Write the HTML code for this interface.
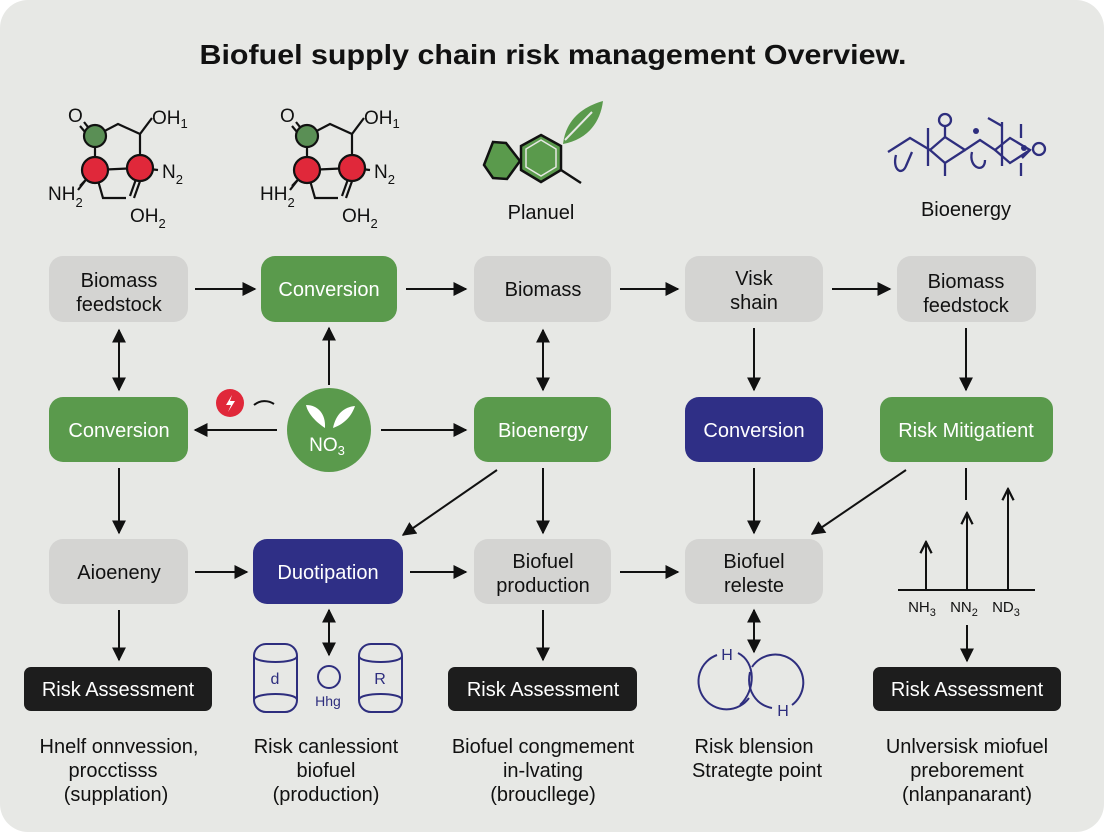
<!DOCTYPE html>
<html><head><meta charset="utf-8"><style>
html,body{margin:0;padding:0;background:#fff;}
svg{display:block;}
text{font-family:"Liberation Sans",sans-serif;}
</style></head><body>
<svg width="1104" height="832" viewBox="0 0 1104 832" xmlns="http://www.w3.org/2000/svg">
<defs>
<marker id="a" viewBox="0 0 10 10" refX="9" refY="5" markerWidth="7" markerHeight="7" orient="auto-start-reverse"><path d="M0,0 L10,5 L0,10 z" fill="#111"/></marker>
<marker id="o" viewBox="0 0 10 10" refX="9" refY="5" markerWidth="7" markerHeight="7" orient="auto"><path d="M1,1 L9,5 L1,9" fill="none" stroke="#111" stroke-width="1.6"/></marker>
</defs>
<rect x="0" y="0" width="1104" height="832" rx="28" fill="#e7e8e5"/>
<text x="553" y="64" font-size="28" font-weight="bold" text-anchor="middle" textLength="707" lengthAdjust="spacingAndGlyphs" fill="#111">Biofuel supply chain risk management Overview.</text>

<!-- molecule 1 -->
<g stroke="#111" stroke-width="2.2" fill="none">
<path d="M84,122 L95,136 M80,126 L90,138"/>
<path d="M95,136 L118,124 L140,134 L152,118 M140,134 L140,168 M95,136 L95,170 M95,170 L140,168 M140,168 L158,170 M95,170 L80,186 M92,172 L78,190 M95,170 L103,198 L126,198 M140,168 L130,196 M144,170 L134,198"/>
<circle cx="95" cy="136" r="11" fill="#5a8f55"/>
<circle cx="95" cy="170" r="13" fill="#e0283a"/>
<circle cx="140" cy="168" r="13" fill="#e0283a"/>
</g>
<g font-size="19" fill="#111">
<text x="68" y="122">O</text>
<text x="152" y="124">OH<tspan font-size="13" dy="4">1</tspan></text>
<text x="162" y="178">N<tspan font-size="13" dy="6">2</tspan></text>
<text x="48" y="200">NH<tspan font-size="13" dy="7">2</tspan></text>
<text x="130" y="222">OH<tspan font-size="13" dy="6">2</tspan></text>
</g>
<!-- molecule 2 -->
<g transform="translate(212,0)">
<g stroke="#111" stroke-width="2.2" fill="none">
<path d="M84,122 L95,136 M80,126 L90,138"/>
<path d="M95,136 L118,124 L140,134 L152,118 M140,134 L140,168 M95,136 L95,170 M95,170 L140,168 M140,168 L158,170 M95,170 L80,186 M92,172 L78,190 M95,170 L103,198 L126,198 M140,168 L130,196 M144,170 L134,198"/>
<circle cx="95" cy="136" r="11" fill="#5a8f55"/>
<circle cx="95" cy="170" r="13" fill="#e0283a"/>
<circle cx="140" cy="168" r="13" fill="#e0283a"/>
</g>
<g font-size="19" fill="#111">
<text x="68" y="122">O</text>
<text x="152" y="124">OH<tspan font-size="13" dy="4">1</tspan></text>
<text x="162" y="178">N<tspan font-size="13" dy="6">2</tspan></text>
<text x="48" y="200">HH<tspan font-size="13" dy="7">2</tspan></text>
<text x="130" y="222">OH<tspan font-size="13" dy="6">2</tspan></text>
</g>
</g>
<!-- planuel -->
<path d="M493,142 L506,143 L520,161 L507,179 L493,178 L484,165 z" fill="#5a9a4c" stroke="#111" stroke-width="2.5"/>
<path d="M541,135 L561,146 L561,170 L541,182 L521,170 L521,146 z" fill="#5a9a4c" stroke="#111" stroke-width="2.5"/>
<path d="M541,140 L556,149 L556,167 L541,176 L526,167 L526,149 z" fill="none" stroke="#e7e8e5" stroke-width="1.5"/>
<path d="M561,170 L581,183" stroke="#111" stroke-width="2.5"/>
<path d="M563,144 C566,118 585,106 603,101 C600,125 585,140 563,144 z" fill="#5a9a4c"/>
<path d="M565,140 L592,112" stroke="#e7e8e5" stroke-width="2"/>
<text x="541" y="219" font-size="20" text-anchor="middle" fill="#111">Planuel</text>
<!-- bioenergy molecule -->
<g stroke="#2e2e7e" stroke-width="2.3" fill="none">
<path d="M888,152 L910,138 L930,150 L945,137 L965,150 L980,140 L995,150 L1010,138 L1030,150 L1022,158"/>
<path d="M930,150 L945,163 L965,150 M995,150 L1010,163 L1030,150"/>
<path d="M928,128 L928,166 M1002,122 L1002,166 M1021,124 L1021,138 M945,137 L945,125 M945,163 L945,176 M1021,163 L1021,176 M988,118 L1002,126"/>
<path d="M896,155 C892,170 902,176 906,166 L912,152 M972,152 C968,168 985,174 985,160"/>
<circle cx="945" cy="120" r="6"/>
<circle cx="1039" cy="149" r="6"/>
</g>
<circle cx="976" cy="131" r="3" fill="#2e2e7e"/>
<circle cx="1024" cy="148" r="3" fill="#2e2e7e"/>
<text x="966" y="216" font-size="20" text-anchor="middle" fill="#111">Bioenergy</text>

<!-- boxes -->
<g font-size="20" text-anchor="middle">
<rect x="49" y="256" width="139" height="66" rx="14" fill="#d4d4d2"/>
<text x="119" y="287" fill="#111">Biomass</text><text x="119" y="311" fill="#111">feedstock</text>
<rect x="261" y="256" width="136" height="66" rx="14" fill="#5a9a4c"/>
<text x="329" y="296" fill="#fff">Conversion</text>
<rect x="474" y="256" width="137" height="66" rx="14" fill="#d4d4d2"/>
<text x="543" y="296" fill="#111">Biomass</text>
<rect x="685" y="256" width="138" height="66" rx="14" fill="#d4d4d2"/>
<text x="754" y="285" fill="#111">Visk</text><text x="754" y="309" fill="#111">shain</text>
<rect x="897" y="256" width="139" height="66" rx="14" fill="#d4d4d2"/>
<text x="966" y="288" fill="#111">Biomass</text><text x="966" y="312" fill="#111">feedstock</text>

<rect x="49" y="397" width="139" height="65" rx="14" fill="#5a9a4c"/>
<text x="119" y="437" fill="#fff">Conversion</text>
<rect x="474" y="397" width="137" height="65" rx="14" fill="#5a9a4c"/>
<text x="543" y="437" fill="#fff">Bioenergy</text>
<rect x="685" y="397" width="138" height="65" rx="14" fill="#2f2f86"/>
<text x="754" y="437" fill="#fff">Conversion</text>
<rect x="880" y="397" width="173" height="65" rx="12" fill="#5a9a4c"/>
<text x="966" y="437" fill="#fff">Risk Mitigatient</text>

<rect x="49" y="539" width="139" height="65" rx="14" fill="#d4d4d2"/>
<text x="119" y="579" fill="#111">Aioeneny</text>
<rect x="253" y="539" width="150" height="65" rx="14" fill="#2f2f86"/>
<text x="328" y="579" fill="#fff">Duotipation</text>
<rect x="474" y="539" width="137" height="65" rx="14" fill="#d4d4d2"/>
<text x="543" y="568" fill="#111">Biofuel</text><text x="543" y="592" fill="#111">production</text>
<rect x="685" y="539" width="138" height="65" rx="14" fill="#d4d4d2"/>
<text x="754" y="568" fill="#111">Biofuel</text><text x="754" y="592" fill="#111">releste</text>

<rect x="24" y="667" width="188" height="44" rx="7" fill="#1d1d1d"/>
<text x="118" y="696" fill="#fff">Risk Assessment</text>
<rect x="448" y="667" width="189" height="44" rx="7" fill="#1d1d1d"/>
<text x="543" y="696" fill="#fff">Risk Assessment</text>
<rect x="873" y="667" width="188" height="44" rx="7" fill="#1d1d1d"/>
<text x="967" y="696" fill="#fff">Risk Assessment</text>
</g>

<!-- NO3 circle -->
<circle cx="329" cy="430" r="42" fill="#5a9a4c"/>
<path d="M325,428 C316,422 308,414 306,405 C318,405 326,414 325,428 z M333,428 C336,414 344,407 355,406 C351,418 342,425 333,428 z" fill="#fff"/>
<text x="327" y="451" font-size="19" text-anchor="middle" fill="#fff">NO<tspan font-size="13" dy="4">3</tspan></text>
<circle cx="230" cy="403" r="14" fill="#e0283a"/>
<path d="M232,395 L226,405 L231,405 L228,412 L235,401 L230,401 z" fill="#fff"/>
<path d="M254,405 C260,400 268,400 274,404" stroke="#111" stroke-width="2" fill="none"/>

<!-- arrows -->
<g stroke="#111" stroke-width="2" fill="none" marker-end="url(#a)">
<path d="M195,289 H255"/><path d="M406,289 H466"/><path d="M620,289 H678"/><path d="M832,289 H890"/>
<path d="M119,330 V390" marker-start="url(#a)"/>
<path d="M329,385 V328"/>
<path d="M543,330 V390" marker-start="url(#a)"/>
<path d="M754,328 V390"/><path d="M966,328 V390"/>
<path d="M277,430 H195"/><path d="M381,430 H466"/>
<path d="M119,468 V533"/>
<path d="M497,470 L403,535"/>
<path d="M543,468 V533"/><path d="M754,468 V533"/>
<path d="M906,470 L812,534"/>
<path d="M195,572 H247"/><path d="M410,572 H466"/><path d="M620,572 H678"/>
<path d="M119,610 V660"/>
<path d="M329,610 V655" marker-start="url(#a)"/>
<path d="M543,610 V660"/>
<path d="M754,610 V652" marker-start="url(#a)"/>
<path d="M967,625 V661"/>
</g>
<path d="M966,468 V500" stroke="#111" stroke-width="2"/>
<g stroke="#111" stroke-width="2" fill="none" marker-end="url(#o)">
<path d="M926,590 V542"/><path d="M967,590 V513"/><path d="M1008,590 V489"/>
</g>
<path d="M898,590 H1035" stroke="#111" stroke-width="2"/>
<g font-size="15" fill="#111" text-anchor="middle">
<text x="922" y="612">NH<tspan font-size="11" dy="4">3</tspan></text>
<text x="964" y="612">NN<tspan font-size="11" dy="4">2</tspan></text>
<text x="1006" y="612">ND<tspan font-size="11" dy="4">3</tspan></text>
</g>

<!-- bottom icons -->
<g stroke="#2e2e7e" stroke-width="2" fill="none">
<rect x="254" y="644" width="43" height="68" rx="12"/>
<path d="M254,656 C254,664 297,664 297,656 M254,700 C254,692 297,692 297,700"/>
<rect x="359" y="644" width="43" height="68" rx="12"/>
<path d="M359,656 C359,664 402,664 402,656 M359,700 C359,692 402,692 402,700"/>
<circle cx="329" cy="677" r="11"/>
<path d="M717,655 A28,28 0 1 0 749,698"/>
<path d="M738,653 C756,662 756,690 740,705"/>
<path d="M752,667 A28,28 0 1 1 792,705"/>
<path d="M750,672 C746,690 756,705 772,708"/>
</g>
<g fill="#2e2e7e" font-size="16" text-anchor="middle">
<text x="275" y="684">d</text><text x="380" y="684">R</text><text x="328" y="706" font-size="14">Hhg</text>
<text x="727" y="660">H</text><text x="783" y="716">H</text>
</g>

<!-- bottom text -->
<g font-size="20" fill="#111" text-anchor="middle">
<text x="119" y="753">Hnelf onnvession,</text>
<text x="113" y="777">procctisss</text>
<text x="116" y="801">(supplation)</text>
<text x="326" y="753">Risk canlessiont</text>
<text x="326" y="777">biofuel</text>
<text x="326" y="801">(production)</text>
<text x="543" y="753">Biofuel congmement</text>
<text x="543" y="777">in-lvating</text>
<text x="543" y="801">(brouclleg​e)</text>
<text x="754" y="753">Risk blension</text>
<text x="757" y="777">Strategte point</text>
<text x="967" y="753">Unlversisk miofuel</text>
<text x="967" y="777">preborement</text>
<text x="967" y="801">(nlanpanarant)</text>
</g>
</svg>
</body></html>
